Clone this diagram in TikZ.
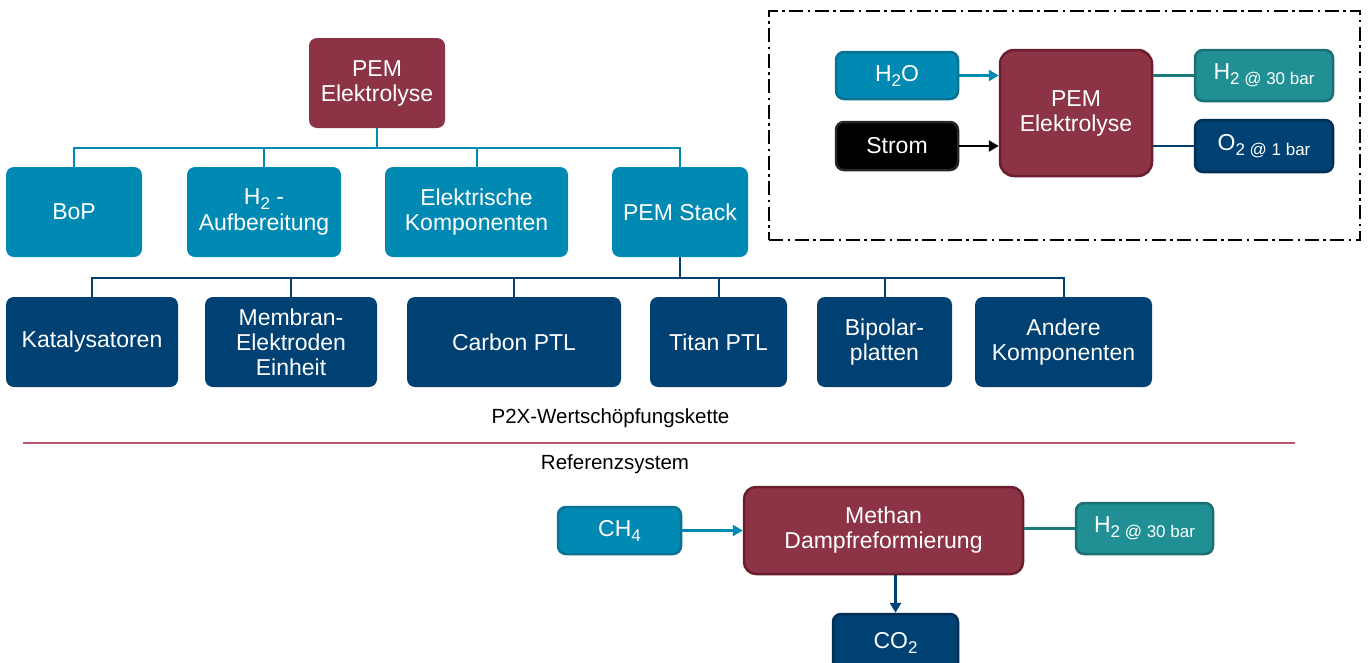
\documentclass[tikz,border=0pt]{standalone}
\usepackage{fontspec}
\setmainfont{Liberation Sans}
\usetikzlibrary{arrows.meta}
\definecolor{maroon}{HTML}{8C3446}
\definecolor{maroonD}{HTML}{6A1E2E}
\definecolor{tblue}{HTML}{0089B3}
\definecolor{tblueD}{HTML}{0A7393}
\definecolor{dblue}{HTML}{004173}
\definecolor{dblueD}{HTML}{002E55}
\definecolor{teal}{HTML}{219095}
\definecolor{tealD}{HTML}{1B6E72}
\definecolor{sepred}{HTML}{B85A6E}
\newcommand{\lowtxt}[1]{\raisebox{-0.22em}{\fontsize{17}{17}\selectfont #1}}
\tikzset{
  box/.style={rounded corners=8pt, inner sep=0pt, align=center, text=white,
    font=\fontsize{23}{25}\selectfont},
  mbox/.style={box, fill=maroon},
  lbox/.style={box, fill=tblue},
  dbox/.style={box, fill=dblue},
  rbox/.style={box, line width=2.5pt},
  tree1/.style={draw=tblue, line width=2pt},
  tree2/.style={draw=dblue, line width=2pt},
  flow/.style={line width=2.8pt, -{Triangle[length=10pt,width=11pt]}},
  link/.style={line width=2.8pt},
  lbl/.style={font=\fontsize{20.5}{22}\selectfont, text=black, inner sep=0pt}
}
\begin{document}
\begin{tikzpicture}[x=1pt,y=-1pt]
\clip (0,0) rectangle (1370,662);
\useasboundingbox (0,0) rectangle (1370,662);
\fill[white] (0,0) rectangle (1370,662);

% tree
\node[mbox, minimum width=136pt, minimum height=90pt] (top) at (377,83) {PEM\\Elektrolyse};
\node[lbox, minimum width=136pt, minimum height=90pt] (bop) at (74,212) {BoP};
\node[lbox, minimum width=154pt, minimum height=90pt] (h2a) at (264,212) {H\lowtxt{2} -\\[1pt]Aufbereitung};
\node[lbox, minimum width=183pt, minimum height=90pt] (elk) at (476.5,212) {Elektrische\\Komponenten};
\node[lbox, minimum width=136pt, minimum height=90pt] (stack) at (680,212) {PEM Stack};

\node[dbox, minimum width=172pt, minimum height=90pt] (kat) at (92,342) {Katalysatoren};
\node[dbox, minimum width=172pt, minimum height=90pt] (mea) at (291,342) {Membran-\\Elektroden\\Einheit};
\node[dbox, minimum width=214pt, minimum height=90pt] (cptl) at (514,342) {Carbon PTL};
\node[dbox, minimum width=137pt, minimum height=90pt] (tptl) at (718.5,342) {Titan PTL};
\node[dbox, minimum width=135pt, minimum height=90pt] (bip) at (884.5,342) {Bipolar-\\platten};
\node[dbox, minimum width=177pt, minimum height=90pt] (and) at (1063.5,342) {Andere\\Komponenten};

\coordinate (j1) at (377,148);
\draw[tree1] (top.south) -- (j1);
\foreach \c in {bop,h2a,elk,stack} \draw[tree1] (j1) -| (\c.north);
\coordinate (j2) at (680,278);
\draw[tree2] (stack.south) -- (j2);
\foreach \c in {kat,mea,cptl,tptl,bip,and} \draw[tree2] (j2) -| (\c.north);

% labels and separator
\node[lbl] (p2x) at (610.5,418) {P2X-Wertschöpfungskette};
\coordinate (sepL) at (23,443);
\coordinate (sepR) at (1295,443);
\draw[sepred, line width=1.5pt] (sepL) -- (sepR);
\node[lbl] (ref) at (615,464) {Referenzsystem};

% top-right system
\node[draw=black, line width=2pt, dash pattern=on 14pt off 4.5pt on 2.5pt off 4.5pt,
  minimum width=591pt, minimum height=229pt, inner sep=0pt] (frame) at (1064.5,125.5) {};
\node[rbox, fill=tblue, draw=tblueD, minimum width=122pt, minimum height=47pt] (h2o) at (897,75.5) {H\lowtxt{2}O};
\node[rbox, fill=black, draw=black!85, minimum width=122pt, minimum height=48pt] (strom) at (897,146) {Strom};
\node[rbox, rounded corners=14pt, fill=maroon, draw=maroonD, minimum width=152pt, minimum height=126pt] (pem) at (1076,113) {PEM\\Elektrolyse};
\node[rbox, fill=teal, draw=tealD, minimum width=138pt, minimum height=51pt] (h2out) at (1264,75.5) {H\lowtxt{2 @ 30 bar}};
\node[rbox, fill=dblue, draw=dblueD, minimum width=138pt, minimum height=52pt] (o2out) at (1264,146) {O\lowtxt{2 @ 1 bar}};
\draw[flow, tblue] (h2o.east) -- (h2o.east -| pem.west);
\draw[flow, black] (strom.east) -- (strom.east -| pem.west);
\draw[link, teal!85!black] (pem.east |- h2out.west) -- (h2out.west);
\draw[link, dblue] (pem.east |- o2out.west) -- (o2out.west);

% bottom reference system
\node[rbox, fill=tblue, draw=tblueD, minimum width=123pt, minimum height=47pt] (ch4) at (619.5,530.5) {CH\lowtxt{4}};
\node[rbox, rounded corners=12pt, fill=maroon, draw=maroonD, minimum width=279pt, minimum height=87pt] (smr) at (883.5,530.5) {Methan\\Dampfreformierung};
\node[rbox, fill=teal, draw=tealD, minimum width=137pt, minimum height=51pt] (h2b) at (1144.5,528.5) {H\lowtxt{2 @ 30 bar}};
\node[rbox, fill=dblue, draw=dblueD, minimum width=125pt, minimum height=58pt] (co2) at (895.5,643) {CO\lowtxt{2}};
\draw[flow, tblue] (ch4.east) -- (ch4.east -| smr.west);
\draw[link, teal!85!black] (smr.east |- h2b.west) -- (h2b.west);
\draw[flow, dblue] (smr.south -| co2.north) -- (co2.north);
\end{tikzpicture}
\end{document}
